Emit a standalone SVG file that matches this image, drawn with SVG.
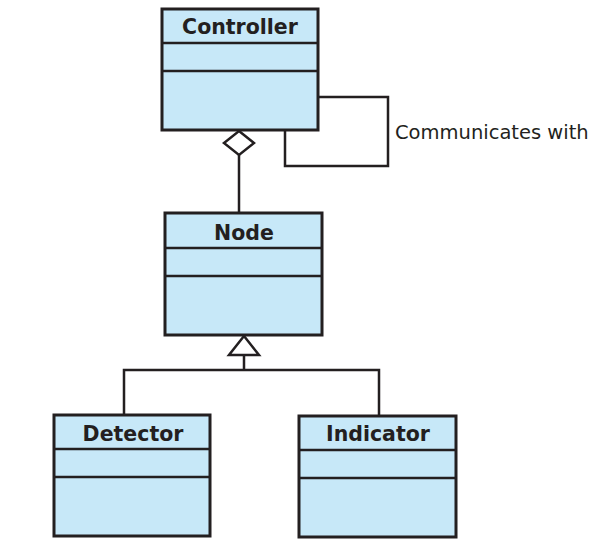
<svg xmlns="http://www.w3.org/2000/svg" width="607" height="557" viewBox="0 0 607 557">
<style>
.box{fill:#c7e8f8;stroke:#231f20;stroke-width:3}
.div{stroke:#231f20;stroke-width:2.5}
.t{font-family:"DejaVu Sans",sans-serif;font-weight:bold;font-size:20.5px;fill:#231f20;text-anchor:middle}
.c{fill:none;stroke:#231f20;stroke-width:2.5}
.lbl{font-family:"DejaVu Sans",sans-serif;font-size:19.5px;fill:#231f20}
</style>
<rect width="607" height="557" fill="#fff"/>
<g id="connectors">
<polyline class="c" points="318,97 388,97 388,166 285,166 285,130"/>
<line class="c" x1="239" y1="155" x2="239" y2="213"/>
<polygon points="239,131 254,143 239,155 224,143" fill="#fff" stroke="#231f20" stroke-width="2.5"/>
<line class="c" x1="244" y1="355" x2="244" y2="370"/>
<polyline class="c" points="124,415 124,370 379,370 379,416"/>
<polygon points="244,336 259,355 229,355" fill="#fff" stroke="#231f20" stroke-width="2.5"/>
<text class="lbl" x="395" y="139">Communicates with</text>
</g>
<g id="controller">
<rect class="box" x="162" y="9" width="156" height="121"/>
<line class="div" x1="162" y1="43" x2="318" y2="43"/>
<line class="div" x1="162" y1="71" x2="318" y2="71"/>
<text class="t" x="240" y="34">Controller</text>
</g>
<g id="node">
<rect class="box" x="165" y="213" width="157" height="122"/>
<line class="div" x1="165" y1="248" x2="322" y2="248"/>
<line class="div" x1="165" y1="276" x2="322" y2="276"/>
<text class="t" x="244" y="240">Node</text>
</g>
<g id="detector">
<rect class="box" x="54" y="415" width="156" height="121"/>
<line class="div" x1="54" y1="449" x2="210" y2="449"/>
<line class="div" x1="54" y1="477" x2="210" y2="477"/>
<text class="t" x="133" y="441">Detector</text>
</g>
<g id="indicator">
<rect class="box" x="299" y="416" width="157" height="121"/>
<line class="div" x1="299" y1="450" x2="456" y2="450"/>
<line class="div" x1="299" y1="478" x2="456" y2="478"/>
<text class="t" x="378" y="441">Indicator</text>
</g>
</svg>
